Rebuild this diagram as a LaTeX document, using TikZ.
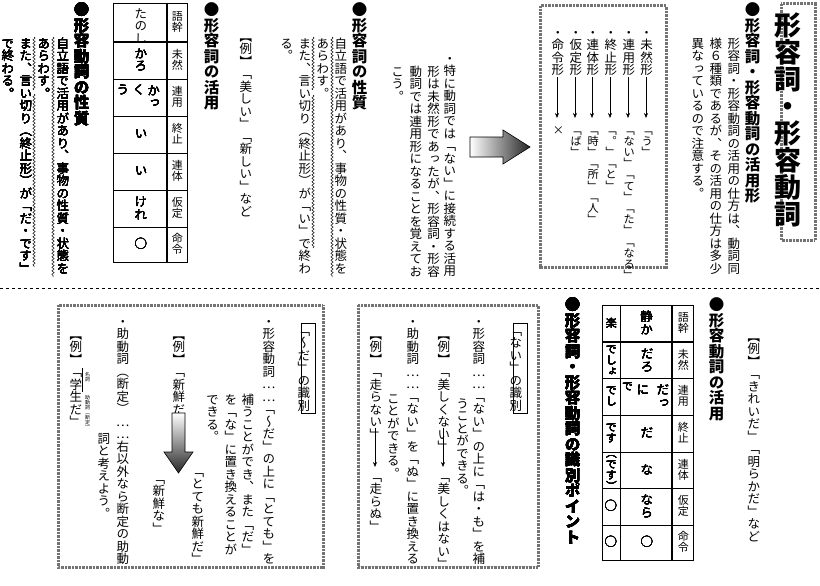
\documentclass[tikz,border=0pt]{standalone}
\usepackage{fontspec}
\usetikzlibrary{decorations.pathmorphing,arrows.meta}
\newfontfamily\vfont[RawFeature={vertical;+vert}]{Noto Sans CJK JP}
\newcommand\vtx[5][]{\node[vt,#1] (#2) at ({#3+5.5},#4) {#5};}
\newcommand\cl[5][]{\node[vt,cell,#1] (#2) at ({#3+5.5},#4) {#5};}
\tikzset{
 vt/.style={rotate=-90,anchor=west,inner sep=0pt,font=\vfont\fontsize{12.5}{12.5}\selectfont},
 hd/.style={font=\vfont\bfseries\fontsize{15.5}{15.5}\selectfont},
 sm/.style={font=\vfont\fontsize{11}{11}\selectfont},
 tl/.style={font=\vfont\fontsize{11.2}{11.2}\selectfont},
 cell/.style={anchor=center},
 hatch/.style={draw=black!55,line width=3pt,dash pattern=on 0.7pt off 0.7pt},
 wavy/.style={decorate,decoration={snake,amplitude=1.1pt,segment length=3.5pt},line width=0.5pt},
 arr/.style={-{Stealth[length=5pt,width=4pt]},line width=0.6pt},
}
\begin{document}
\begin{tikzpicture}[x=1pt,y=-1pt]
\useasboundingbox[fill=white] (0,0) rectangle (820,586);
% ---------------- top right: title
\draw[hatch] (781,4) rectangle (815,240);
\vtx[font=\vfont\bfseries\fontsize{27}{27}\selectfont]{title}{793}{12}{形容詞・形容動詞}
\vtx[hd]{h1}{753}{2}{●形容詞・形容動詞の活用形}
\vtx{t1}{733}{37}{形容詞・形容動詞の活用の仕方は、動詞同}
\vtx{t2}{715}{37}{様６種類であるが、その活用の仕方は多少}
\vtx{t3}{697}{37}{異なっているので注意する。}
% box of forms
\draw[hatch] (540,6) rectangle (666,267);
\foreach \n/\x/\lab/\tail in {a/646/・未然形/「う」, b/628/・連用形/「ない」「て」「た」「なる」, c/610/・終止形/「。」「と」, d/592/・連体形/「時」「所」「人」, e/575/・仮定形/「ば」, f/557/・命令形/×}{
  \vtx{f\n}{\x}{26}{\lab}
  \coordinate (s\n) at (\x,77);
  \coordinate (e\n) at (\x,118);
  \draw[arr] (s\n) -- (e\n);
  \vtx[tl]{g\n}{\x}{124}{\tail}
}
% big right arrow
\shade[left color=white,right color=black!85,draw=black,line width=0.6pt]
  (470,137) -- (503,137) -- (503,130) -- (530,147) -- (503,164) -- (503,157) -- (470,157) -- cycle;
\vtx{p1}{449}{52}{・特に動詞では「ない」に接続する活用}
\vtx{p2}{433}{65}{形は未然形であったが、形容詞・形容}
\vtx{p3}{415}{65}{動詞では連用形になることを覚えてお}
\vtx{p4}{397}{65}{こう。}
% 形容詞の性質
\vtx[hd]{h2}{360}{2}{●形容詞の性質}
\vtx{q1}{340}{37}{自立語で活用があり、事物の性質・状態を}
\vtx{q2}{322}{37}{あらわす。}
\vtx{q3}{304}{37}{また、言い切り（終止形）が「い」で終わ}
\vtx{q4}{286}{37}{る。}
\coordinate (w1a) at (332,37); \coordinate (w1b) at (332,277);
\coordinate (w2a) at (313,37); \coordinate (w2b) at (313,90);
\coordinate (w3a) at (313,95); \coordinate (w3b) at (313,248);
\draw[wavy] (w1a) -- (w1b); \draw[wavy] (w2a) -- (w2b); \draw[wavy] (w3a) -- (w3b);
% 形容詞の活用
\vtx{ex1}{245}{30}{【例】「美しい」「新しい」など}
\vtx[hd]{h3}{212}{2}{●形容詞の活用}
\begin{scope}
\clip (113,3) rectangle (167,41);
\vtx{c0}{140}{7}{たのし}
\end{scope}
\draw[line width=0.7pt] (113,3) rectangle (187,262);
\draw[line width=2pt] (167,3) -- (167,262);
\draw[line width=2pt] (113,42) -- (187,42);
\foreach \y in {79,116,153,190,227} \draw[line width=0.7pt] (113,\y) -- (187,\y);
\foreach \lab/\y [count=\i] in {語幹/22,未然/60,連用/97,終止/134,連体/171,仮定/208,命令/244}
  \cl[sm]{l\i}{176}{\y}{\lab}
\cl{k1}{140}{60}{かろ}
\cl{k2a}{153}{97}{かっ}
\cl{k2b}{138}{90}{く}
\cl{k2c}{122}{90}{う}
\cl{k3}{140}{134}{い}
\cl{k4}{140}{171}{い}
\cl{k5}{140}{208}{けれ}
\cl{k6}{140}{244}{○}
% 形容動詞の性質
\vtx[hd]{h4}{82}{2}{●形容動詞の性質}
\vtx{r1}{62}{37}{自立語で活用があり、事物の性質・状態を}
\vtx{r2}{43}{37}{あらわす。}
\vtx{r3}{25}{37}{また、言い切り（終止形）が「だ・です」}
\vtx{r4}{7}{37}{で終わる。}
\coordinate (v1a) at (53,37); \coordinate (v1b) at (53,277);
\coordinate (v2a) at (34,37); \coordinate (v2b) at (34,90);
\coordinate (v3a) at (34,94); \coordinate (v3b) at (34,267);
\draw[wavy] (v1a) -- (v1b); \draw[wavy] (v2a) -- (v2b); \draw[wavy] (v3a) -- (v3b);
% dashed separator
\coordinate (dl) at (0,288); \coordinate (dr) at (820,288);
\draw[dashed,line width=0.6pt] (dl) -- (dr);
% ---------------- bottom right
\vtx{ex2}{753}{330}{【例】「きれいだ」「明らかだ」など}
\vtx[hd]{h5}{717}{297}{●形容動詞の活用}
\draw[line width=0.7pt] (602,305) rectangle (693,560);
\draw[line width=2pt] (672,305) -- (672,560);
\draw[line width=0.7pt] (620,305) -- (620,560);
\draw[line width=2pt] (602,342) -- (693,342);
\foreach \y in {378,415,452,488,525} \draw[line width=0.7pt] (602,\y) -- (693,\y);
\foreach \lab/\y [count=\i] in {語幹/323,未然/360,連用/396,終止/433,連体/470,仮定/506,命令/542}
  \cl[sm]{m\i}{682}{\y}{\lab}
\cl{n0}{646}{323}{静か}
\cl{n1}{646}{360}{だろ}
\cl{n2a}{662}{396}{だっ}
\cl{n2b}{642}{390}{に}
\cl[sm]{n2c}{626}{386}{で}
\cl{n3}{646}{433}{だ}
\cl{n4}{646}{470}{な}
\cl{n5}{646}{506}{なら}
\cl{n6}{646}{542}{○}
\cl[sm]{o0}{610}{323}{楽}
\cl[sm]{o1}{610}{360}{でしょ}
\cl[sm]{o2}{610}{396}{でし}
\cl[sm]{o3}{610}{433}{です}
\cl[sm]{o4}{610}{470}{（です）}
\cl{o5}{610}{506}{○}
\cl{o6}{610}{542}{○}
\vtx[hd]{h6}{573}{297}{●形容詞・形容動詞の識別ポイント}
% ---------------- box ない
\draw[hatch] (358,305) rectangle (538,567);
\vtx[draw,line width=0.6pt,inner sep=1pt]{nb}{515}{323}{「ない」の識別}
\vtx{u1}{478}{315}{・形容詞……「ない」の上に「は・も」を補}
\vtx{u2}{462}{397}{うことができる。}
\vtx{u3}{443}{328}{【例】「美しくない」}
\coordinate (ua) at (443,428); \coordinate (ub) at (443,467);
\draw[arr] (ua) -- (ub);
\vtx{u4}{443}{470}{「美しくはない」}
\coordinate (uz1) at (451,512); \coordinate (uz2) at (451,528);
\draw[double,double distance=1.2pt,line width=0.4pt] (uz1) -- (uz2);
\vtx{u5}{412}{315}{・助動詞……「ない」を「ぬ」に置き換える}
\vtx{u6}{393}{392}{ことができる。}
\vtx{u7}{375}{328}{【例】「走らない」}
\coordinate (va) at (375,428); \coordinate (vb) at (375,467);
\draw[arr] (va) -- (vb);
\vtx{u8}{375}{470}{「走らぬ」}
\coordinate (vz1) at (385,508); \coordinate (vz2) at (385,524);
\draw[double,double distance=1.2pt,line width=0.4pt] (vz1) -- (vz2);
% ---------------- box だ
\draw[hatch] (58,305) rectangle (323,567);
\vtx[draw,line width=0.6pt,inner sep=1pt]{db}{303}{323}{「～だ」の識別}
\vtx{d1}{268}{315}{・形容動詞……「～だ」の上に「とても」を}
\vtx{d2}{247}{393}{補うことができ、また「だ」}
\vtx{d3}{230}{393}{を「な」に置き換えることが}
\vtx{d4}{212}{393}{できる。}
\vtx{d5}{178}{328}{【例】「新鮮だ」}
\shade[top color=white,bottom color=black!85,draw=black,line width=0.6pt]
  (172,413) -- (185,413) -- (185,452) -- (193,452) -- (178.5,473) -- (164,452) -- (172,452) -- cycle;
\vtx{d6}{197}{465}{「とても新鮮だ」}
\vtx{d7}{158}{472}{「新鮮な」}
\vtx{d8}{122}{315}{・助動詞（断定）……右以外なら断定の助動}
\vtx{d9}{103}{432}{詞と考えよう。}
\vtx{d10}{75}{328}{【例】「学生だ」}
\vtx[font=\vfont\fontsize{5}{5}\selectfont]{dn1}{84}{372}{名詞}
\vtx[font=\vfont\fontsize{5}{5}\selectfont]{dn2}{84}{395}{助動詞（断定）}
\coordinate (dk1) at (82,368); \coordinate (dk2) at (82,392);
\draw[line width=0.5pt] (dk1) -- (dk2);
\end{tikzpicture}
\end{document}
